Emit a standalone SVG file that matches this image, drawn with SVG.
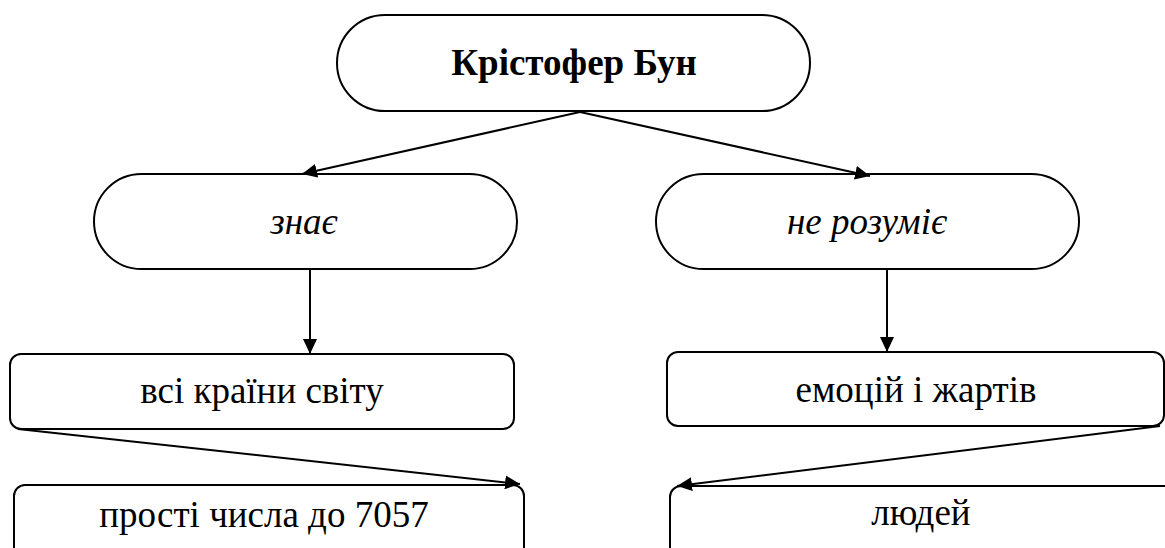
<svg xmlns="http://www.w3.org/2000/svg" width="1165" height="548" viewBox="0 0 1165 548">
<defs>
<marker id="a" viewBox="0 0 15 14" refX="15" refY="7" markerWidth="15" markerHeight="14" markerUnits="userSpaceOnUse" orient="auto">
<path d="M0,0 L15,7 L0,14 Z" fill="#000"/>
</marker>
</defs>
<rect width="1165" height="548" fill="#fff"/>
<g fill="#fff" stroke="#000" stroke-width="2">
<g id="n-boon"><rect x="337" y="15" width="473" height="96" rx="48"/><text stroke="none" fill="#000" font-family="Liberation Serif" font-size="37" font-weight="bold" text-anchor="middle" x="574" y="75">Крістофер Бун</text></g>
<g id="n-knows"><rect x="94" y="174" width="423" height="95" rx="47.5"/><text stroke="none" fill="#000" font-family="Liberation Serif" font-size="37" font-style="italic" text-anchor="middle" x="304" y="234">знає</text></g>
<g id="n-notund"><rect x="656" y="174" width="423" height="95" rx="47.5"/><text stroke="none" fill="#000" font-family="Liberation Serif" font-size="37" font-style="italic" text-anchor="middle" x="867" y="234">не розуміє</text></g>
<g id="n-countries"><rect x="10" y="354" width="504" height="75" rx="11"/><text stroke="none" fill="#000" font-family="Liberation Serif" font-size="37" text-anchor="middle" x="262" y="403">всі країни світу</text></g>
<g id="n-primes"><rect x="14" y="485" width="510" height="80" rx="11"/><text stroke="none" fill="#000" font-family="Liberation Serif" font-size="37" text-anchor="middle" x="264" y="527">прості числа до 7057</text></g>
<g id="n-emotions"><rect x="667" y="352" width="497" height="74" rx="11"/><text stroke="none" fill="#000" font-family="Liberation Serif" font-size="37" text-anchor="middle" x="916" y="402">емоцій і жартів</text></g>
<g id="n-people"><rect x="670" y="486" width="510" height="80" rx="11"/><text stroke="none" fill="#000" font-family="Liberation Serif" font-size="37" text-anchor="middle" x="921" y="525">людей</text></g>
</g>
<g id="connectors" stroke="#000" stroke-width="2" fill="none" marker-end="url(#a)">
<line x1="580" y1="112" x2="302" y2="174"/>
<line x1="580" y1="112" x2="870" y2="176"/>
<line x1="310" y1="269" x2="310" y2="354"/>
<line x1="887" y1="269" x2="887" y2="352"/>
<line x1="18" y1="429" x2="520" y2="484"/>
<line x1="1160" y1="426" x2="677" y2="486"/>
</g>
</svg>
